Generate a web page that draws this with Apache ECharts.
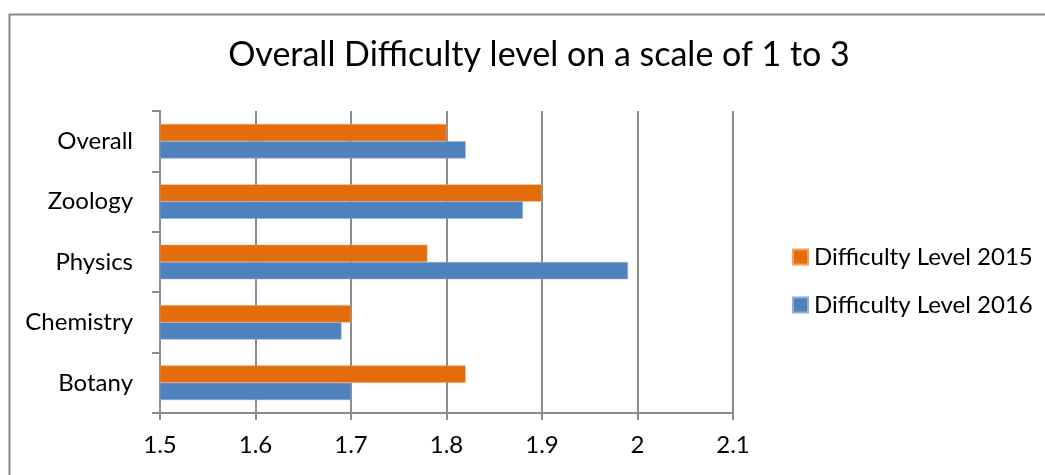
<!DOCTYPE html>
<html>
<head>
<meta charset="utf-8">
<script src="https://cdn.jsdelivr.net/npm/echarts@6/dist/echarts.min.js"></script>
<style>
html,body{margin:0;padding:0;background:#fff;}
#c{width:1045px;height:475px;}
</style>
</head>
<body>
<div id="c"></div>
<script>
var categories = ['Botany', 'Chemistry', 'Physics', 'Zoology', 'Overall'];
var seriesNames = ['Difficulty Level 2015', 'Difficulty Level 2016'];
var values2015 = [1.82, 1.70, 1.78, 1.90, 1.80];
var values2016 = [1.70, 1.69, 1.99, 1.88, 1.82];
var xTicks = [1.5, 1.6, 1.7, 1.8, 1.9, 2.0, 2.1];

var FONT = 'Lato';
var chart = echarts.init(document.getElementById('c'), null, {renderer: 'canvas'});
chart.setOption({
  backgroundColor: '#fff',
  animation: false,
  graphic: [{
    type: 'rect', left: 7, top: 12, shape: {x: 0, y: 0, width: 1200, height: 600},
    style: {fill: 'none', stroke: '#898989', lineWidth: 2}, silent: true, z: -10
  }],
  title: {
    text: 'Overall Difficulty level on a scale of 1 to 3',
    left: 534, top: 33, textAlign: 'center',
    textStyle: {fontFamily: FONT, fontSize: 34, fontWeight: 'normal', color: '#000'}
  },
  legend: {
    orient: 'vertical', left: 787, top: 240,
    data: seriesNames,
    itemWidth: 15, itemHeight: 15, itemGap: 24,
    icon: 'rect',
    textStyle: {fontFamily: FONT, fontSize: 24, lineHeight: 24, color: '#000', padding: [0,0,0,1]}
  },
  grid: {left: 160, right: 312, top: 111, bottom: 62, containLabel: false},
  xAxis: {
    type: 'value', min: 1.5, max: 2.1, interval: 0.1,
    axisLine: {show: true, lineStyle: {color: '#8c8c8c', width: 2}},
    axisTick: {show: true, length: 7, lineStyle: {color: '#8c8c8c', width: 2}},
    splitLine: {show: true, lineStyle: {color: '#8c8c8c', width: 2}},
    axisLabel: {
      fontFamily: FONT, fontSize: 24, color: '#000', margin: 20,
      formatter: function (v) { var r = Math.round(v * 10) / 10; return xTicks.indexOf(r) >= 0 ? String(r) : ''; }
    }
  },
  yAxis: {
    type: 'category', data: categories,
    axisLine: {show: true, lineStyle: {color: '#8c8c8c', width: 2}},
    axisTick: {show: true, length: 8, lineStyle: {color: '#8c8c8c', width: 2}},
    axisLabel: {fontFamily: FONT, fontSize: 24, color: '#000', margin: 27}
  },
  series: [
    {
      name: seriesNames[0], type: 'bar', data: values2015,
      barGap: '0%', barCategoryGap: '43%',
      itemStyle: {color: '#E46C0A', borderColor: '#F0A060', borderWidth: 0.5}
    },
    {
      name: seriesNames[1], type: 'bar', data: values2016,
      barGap: '0%', barCategoryGap: '43%',
      itemStyle: {color: '#4F81BD', borderColor: '#8EAED6', borderWidth: 0.5}
    }
  ]
});
</script>
</body>
</html>
